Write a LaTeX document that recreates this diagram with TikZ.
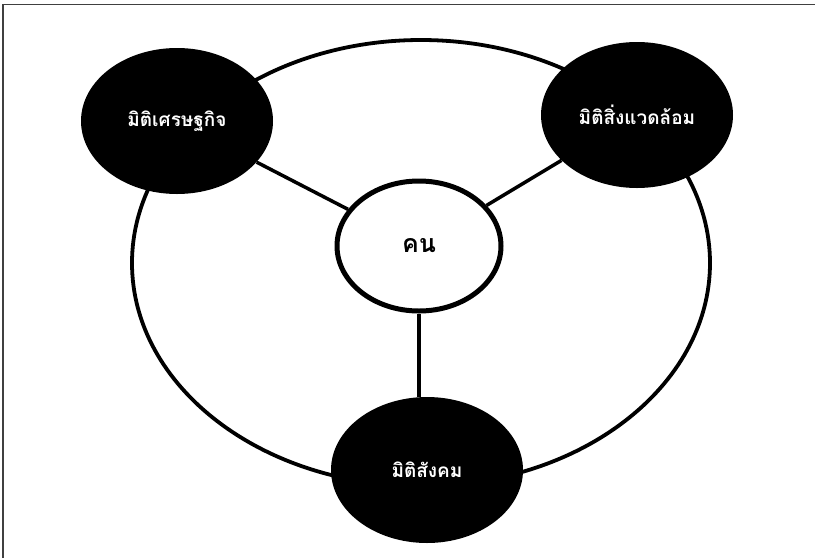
\documentclass[tikz,border=0pt]{standalone}
\usepackage{fontspec}
\newfontfamily\thaifont[Script=Thai]{Loma}
\usetikzlibrary{shapes.geometric}
\tikzset{
  dimnode/.style={ellipse, fill=black, text=white, minimum width=192pt, minimum height=146pt,
    font=\thaifont\bfseries\fontsize{19}{22}\selectfont},
  hubnode/.style={ellipse, draw=black, fill=white, line width=5pt, minimum width=164pt, minimum height=130pt,
    font=\thaifont\bfseries\fontsize{25}{28}\selectfont},
  link/.style={black, line width=3.5pt}
}
\begin{document}
\begin{tikzpicture}[x=1pt, y=-1pt]
    \useasboundingbox (0,0) rectangle (815,558);
    \draw[black!75, line width=1.5pt] (3,558) -- (3,4.5) -- (815,4.5);
    \draw[black, line width=3.8pt] (421,263) ellipse (289 and 223);

    \node[hubnode] (person) at (419,246) {คน};
    \node[dimnode] (econ) at (177,121) {มิติเศรษฐกิจ};
    \node[dimnode] (envi) at (637,115) {มิติสิ่งแวดล้อม};
    \node[dimnode] (soci) at (427,470) {มิติสังคม};

    \draw[link] (econ) -- (person);
    \draw[link] (envi) -- (person);
    \draw[link] (person.south) -- (person.south |- soci.north);
\end{tikzpicture}
\end{document}
